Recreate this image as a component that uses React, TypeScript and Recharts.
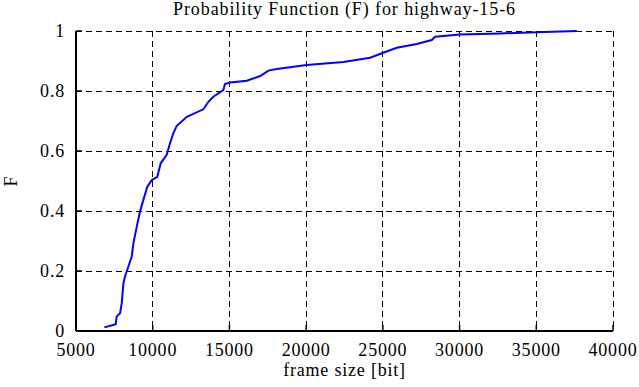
import {LineChart, Line, XAxis, YAxis, CartesianGrid} from 'recharts';

// frame sizes in bit
const frameSizes = [
    6850, 7590, 7650, 7870, 7980, 8090, 8190, 8410, 8630, 8740, 8960, 9170, 9390, 9650, 9940,
    10300, 10520, 10910, 11130, 11340, 11560, 12220, 13300, 13630, 13950, 14600, 14710,
    15040, 16130, 17000, 17540, 18090, 20040, 22430, 24170, 24930, 25910, 27210, 28190,
    28400, 30030, 32640, 35030, 37640,
];
// cumulative probability F at each frame size
const cdfValues = [
    0.012, 0.023, 0.048, 0.059, 0.092, 0.159, 0.181, 0.214, 0.248, 0.292, 0.348, 0.398, 0.437, 0.481, 0.503,
    0.514, 0.559, 0.587, 0.626, 0.659, 0.683, 0.714, 0.739, 0.764, 0.781, 0.803, 0.823,
    0.828, 0.834, 0.85, 0.868, 0.873, 0.887, 0.897, 0.911, 0.926, 0.944, 0.957, 0.97,
    0.981, 0.988, 0.992, 0.996, 1.0,
];
const xTicks = [5000, 10000, 15000, 20000, 25000, 30000, 35000, 40000];
const yTicks = [0, 0.2, 0.4, 0.6, 0.8, 1];

const title = 'Probability Function (F) for highway-15-6';
const textStyle = {
    fontFamily: "'Liberation Serif', 'Times New Roman', 'DejaVu Serif', serif",
    fontSize: 18,
    letterSpacing: 0.8,
    fill: '#000',
};

const data = frameSizes.map((x, i) => ({x, F: cdfValues[i]}));

const BottomTick = (props: any) => {
    const {x, y, payload} = props;
    return (
        <g>
            <line x1={x} y1={y} x2={x} y2={y - 6} stroke="#000" strokeWidth={1.5}/>
            <text x={x} y={y + 25} textAnchor="middle" style={textStyle}>{payload.value}</text>
        </g>
    );
};

const TopTick = (props: any) => {
    const {x, y} = props;
    return <line x1={x} y1={y} x2={x} y2={y + 6} stroke="#000" strokeWidth={1.5}/>;
};

const LeftTick = (props: any) => {
    const {x, y, payload} = props;
    return (
        <g>
            <line x1={x} y1={y} x2={x + 6} y2={y} stroke="#000" strokeWidth={1.5}/>
            <text x={x - 11} y={y + 6} textAnchor="end" style={textStyle}>{payload.value}</text>
        </g>
    );
};

const RightTick = (props: any) => {
    const {x, y} = props;
    return <line x1={x} y1={y} x2={x - 6} y2={y} stroke="#000" strokeWidth={1.5}/>;
};

export default function App() {
    return (
        <div style={{position: 'absolute', left: 0, top: 0, background: '#fff'}}>
            <LineChart width={639} height={387} data={data} margin={{top: 31, right: 26, bottom: 0, left: 0}}>
                <CartesianGrid stroke="#000" strokeDasharray="6 4" strokeWidth={1} shapeRendering="crispEdges"/>
                <XAxis dataKey="x" type="number" domain={[5000, 40000]} ticks={xTicks} interval={0}
                       height={56} tickSize={0} tickMargin={0} tick={BottomTick}
                       axisLine={{stroke: '#000', strokeWidth: 2}} tickLine={false}
                       label={{
                           content: (p: any) => (
                               <text x={p.viewBox.x + p.viewBox.width / 2} y={p.viewBox.y + 45} textAnchor="middle"
                                     style={textStyle}>frame size [bit]</text>
                           ),
                       }}/>
                <XAxis xAxisId="top" orientation="top" dataKey="x" type="number" domain={[5000, 40000]} ticks={xTicks}
                       interval={0} height={0} tickSize={0} tickMargin={0} tick={TopTick}
                       axisLine={{stroke: '#000', strokeWidth: 2}} tickLine={false}/>
                <YAxis type="number" domain={[0, 1]} ticks={yTicks} interval={0} width={76}
                       tickSize={0} tickMargin={0} tick={LeftTick}
                       axisLine={{stroke: '#000', strokeWidth: 2}} tickLine={false}
                       label={{
                           content: (p: any) => {
                               const cx = p.viewBox.x + 17;
                               const cy = p.viewBox.y + p.viewBox.height / 2;
                               return (
                                   <text x={cx} y={cy} textAnchor="middle" transform={`rotate(-90 ${cx} ${cy})`}
                                         style={textStyle}>F</text>
                               );
                           },
                       }}/>
                <YAxis yAxisId="right" orientation="right" type="number" domain={[0, 1]} ticks={yTicks} interval={0}
                       width={0} tickSize={0} tickMargin={0} tick={RightTick}
                       axisLine={{stroke: '#000', strokeWidth: 2}} tickLine={false}/>
                <Line type="linear" dataKey="F" stroke="#0000ff" strokeWidth={2} dot={false} isAnimationActive={false}/>
                <text x={344.5} y={15} textAnchor="middle" style={{...textStyle, letterSpacing: 0.9}}>{title}</text>
            </LineChart>
        </div>
    );
}
